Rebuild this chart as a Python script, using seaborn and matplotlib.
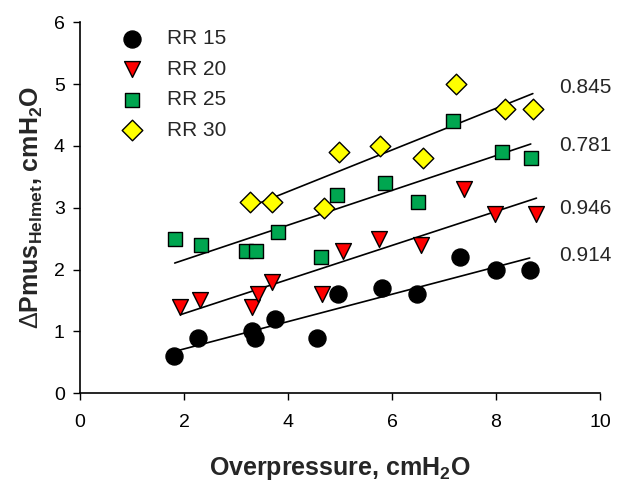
import matplotlib
matplotlib.use("Agg")
import matplotlib.pyplot as plt
import seaborn as sns
import pandas as pd
import numpy as np

groups = ["RR 15", "RR 20", "RR 25", "RR 30"]
x_rr15 = [1.8, 2.27, 3.3, 3.37, 3.75, 4.55, 4.97, 5.8, 6.48, 7.3, 8.0, 8.65]
y_rr15 = [0.6, 0.9, 1.0, 0.9, 1.2, 0.9, 1.6, 1.7, 1.6, 2.2, 2.0, 2.0]
x_rr20 = [1.93, 2.3, 3.3, 3.43, 3.7, 4.66, 5.06, 5.75, 6.55, 7.38, 7.99, 8.78]
y_rr20 = [1.4, 1.5, 1.4, 1.6, 1.8, 1.6, 2.3, 2.5, 2.4, 3.3, 2.9, 2.9]
x_rr25 = [1.82, 2.32, 3.19, 3.39, 3.8, 4.63, 4.95, 5.87, 6.5, 7.17, 8.11, 8.67]
y_rr25 = [2.5, 2.4, 2.3, 2.3, 2.6, 2.2, 3.2, 3.4, 3.1, 4.4, 3.9, 3.8]
x_rr30 = [3.27, 3.69, 4.69, 4.99, 5.77, 6.59, 7.23, 8.17, 8.71]
y_rr30 = [3.1, 3.1, 3.0, 3.9, 4.0, 3.8, 5.0, 4.6, 4.6]
r_labels = ["0.914", "0.946", "0.781", "0.845"]
r_label_y = [2.23, 2.99, 4.01, 4.94]
x_ticks = [0, 2, 4, 6, 8, 10]
y_ticks = [0, 1, 2, 3, 4, 5, 6]

xs = [x_rr15, x_rr20, x_rr25, x_rr30]
ys = [y_rr15, y_rr20, y_rr25, y_rr30]
df = pd.concat([pd.DataFrame({"x": x, "y": y, "group": g}) for g, x, y in zip(groups, xs, ys)],
               ignore_index=True)

sns.set_theme(style="ticks")
plt.rcParams["font.family"] = ["Liberation Sans", "DejaVu Sans"]
plt.rcParams["mathtext.fontset"] = "custom"
plt.rcParams["mathtext.rm"] = "Liberation Sans"
plt.rcParams["mathtext.bf"] = "Liberation Sans:bold"
plt.rcParams["mathtext.it"] = "Liberation Sans:italic"

fig = plt.figure(figsize=(6.21, 4.83), dpi=100)
ax = fig.add_axes([0.129, 0.186, 0.837, 0.768])

palette = {"RR 15": "#000000", "RR 20": "#FF0000", "RR 25": "#00A650", "RR 30": "#FFFF00"}
markers = {"RR 15": "o", "RR 20": "v", "RR 25": "s", "RR 30": "D"}
sizes = {"RR 15": 150, "RR 20": 130, "RR 25": 100, "RR 30": 110}

for g in groups:
    sub = df[df.group == g]
    sns.regplot(data=sub, x="x", y="y", scatter=False, ci=None, ax=ax,
                line_kws={"color": "black", "lw": 1.2})

for g in groups:
    sub = df[df.group == g]
    sns.scatterplot(data=sub, x="x", y="y", color=palette[g], marker=markers[g],
                    s=sizes[g], edgecolor="black", linewidth=1.0, ax=ax, label=g, zorder=3)

for lab, yy in zip(r_labels, r_label_y):
    ax.text(9.22, yy, lab, fontsize=15, va="center", ha="left", clip_on=False)

ax.set_xlim(0, 10)
ax.set_ylim(0, 6)
ax.set_xticks(x_ticks)
ax.set_yticks(y_ticks)
ax.tick_params(axis="both", labelsize=14, direction="out", length=5, width=1, color="black",
               labelcolor="black")
ax.tick_params(axis="x", pad=10)
ax.tick_params(axis="y", pad=6)
for s in ["top", "right"]:
    ax.spines[s].set_visible(False)
for s in ["left", "bottom"]:
    ax.spines[s].set_color("black")
    ax.spines[s].set_linewidth(1.2)

ax.set_xlabel(r"Overpressure, cmH$_\mathbf{2}$O", fontsize=18, fontweight="bold", labelpad=17)
ax.set_ylabel(r"$\Delta$Pmus$_\mathbf{Helmet}$, cmH$_\mathbf{2}$O", fontsize=18,
              fontweight="bold", labelpad=6)

leg = ax.legend(loc="upper left", bbox_to_anchor=(0.035, 1.015), frameon=False, fontsize=15,
                handletextpad=0.7, labelspacing=0.55, borderaxespad=0.2)

fig.savefig("out.png", dpi=100, facecolor="white")
